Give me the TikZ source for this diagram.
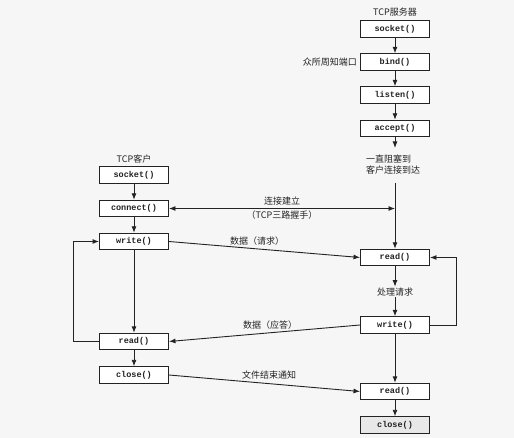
\documentclass[tikz,border=0pt]{standalone}
\usepackage{fontspec}
\setmonofont{Liberation Mono}
\newfontfamily\cjk{Noto Sans CJK SC}
\usetikzlibrary{arrows.meta}
\definecolor{ink}{RGB}{35,35,35}
\definecolor{bg}{RGB}{246,246,246}
\tikzset{
  fn/.style={draw=ink, line width=0.9pt, fill=white, minimum width=69pt, minimum height=16.5pt, inner sep=0pt, font=\ttfamily\bfseries\fontsize{8.5}{9}\selectfont, text=ink},
  lbl/.style={font=\cjk\fontsize{9}{11}\selectfont, text=ink, inner sep=1pt},
  ln/.style={draw=ink, line width=0.9pt},
  arr/.style={ln, -{Latex[length=6.5pt,width=5pt]}},
  darr/.style={ln, {Latex[length=6.5pt,width=5pt]}-{Latex[length=6.5pt,width=5pt]}}
}
\begin{document}
\begin{tikzpicture}[x=1pt,y=-1pt]
\fill[bg] (0,0) rectangle (514,438);
\useasboundingbox (0,0) rectangle (514,438);
% server
\node[lbl] (tS) at (395,12) {TCP服务器};
\node[fn] (socketS) at (395,29) {socket()};
\node[fn] (bindS) at (395,62) {bind()};
\node[fn] (listenS) at (395,95) {listen()};
\node[fn] (acceptS) at (395,128.5) {accept()};
\node[lbl, anchor=east] (wk) at (358,62) {众所周知端口};
\node[lbl, align=left, anchor=west, inner sep=0pt] (block) at (366,165) {一直阻塞到\\客户连接到达};
\node[fn] (readS) at (395,257.5) {read()};
\node[lbl, fill=bg] (proc) at (395,292) {处理请求};
\node[fn] (writeS) at (395,325) {write()};
\node[fn] (readS2) at (395,391.5) {read()};
\node[fn, fill=gray!18] (closeS) at (395,425) {close()};
% client
\node[lbl] (tC) at (134,159) {TCP客户};
\node[fn] (socketC) at (134,175) {socket()};
\node[fn] (connectC) at (134,208.5) {connect()};
\node[fn] (writeC) at (134,241.5) {write()};
\node[fn] (readC) at (134,341.5) {read()};
\node[fn] (closeC) at (134,375) {close()};
% server chain
\draw[arr] (socketS) -- (bindS);
\draw[arr] (bindS) -- (listenS);
\draw[arr] (listenS) -- (acceptS);
\coordinate (blk1) at (395,148);
\coordinate (blk2) at (395,183);
\draw[arr] (acceptS) -- (blk1);
\draw[arr] (blk2) -- (readS);
\coordinate (conn) at (connectC.east -| readS);
\draw[arr] (readS) -- (proc);
\draw[arr] (proc) -- (writeS);
\draw[arr] (writeS.east) -- ++(26,0) |- (readS.east);
\draw[arr] (writeS) -- (readS2);
\draw[arr] (readS2) -- (closeS);
% client chain
\draw[arr] (socketC) -- (connectC);
\draw[arr] (connectC) -- (writeC);
\draw[arr] (writeC) -- (readC);
\draw[arr] (readC.west) -- ++(-26,0) |- (writeC.west);
\draw[arr] (readC) -- (closeC);
% cross
\draw[darr] (connectC.east) -- (conn);
\node[lbl] (c1) at (282,201) {连接建立};
\node[lbl] (c2) at (282,215.5) {（TCP三路握手）};
\draw[arr] (writeC.east) -- (readS.west);
\node[lbl] (req) at (257,241) {数据（请求）};
\draw[arr] (writeS.west) -- (readC.east);
\node[lbl] (rep) at (270,325) {数据（应答）};
\draw[arr] (closeC.east) -- (readS2.west);
\node[lbl] (eof) at (269,375) {文件结束通知};
\end{tikzpicture}
\end{document}
